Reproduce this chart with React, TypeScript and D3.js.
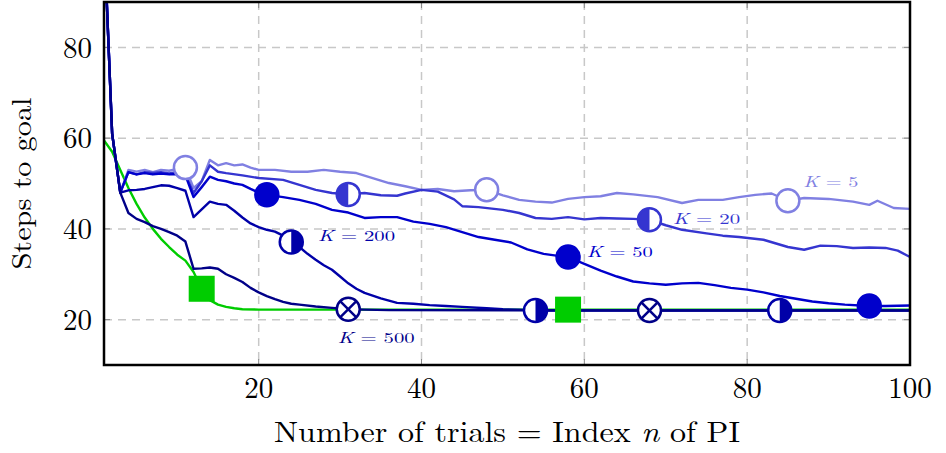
import React from 'react';
import * as d3 from 'd3';

type Pt = [number, number];

// axis ticks
const xTicks = [20, 40, 60, 80, 100];
const yTicks = [20, 40, 60, 80];

// series (x = trial index, y = steps to goal)
const k5: Pt[] = [
  [1, 105], [2, 61], [3, 48], [4, 53], [5, 52.6], [6, 53], [7, 52.5], [8, 53], [9, 52.8], [10, 53.2],
  [11, 53.5], [12, 49], [13, 50.5], [14, 55.2], [15, 54], [16, 54.5], [17, 54], [18, 54.2], [19, 53.5], [20, 53],
  [22, 53], [24, 52.6], [26, 52.6], [28, 53], [30, 52.6], [32, 52.3], [34, 51.2], [36, 50.1], [38, 49.4], [40, 48.6],
  [42, 48.8], [44, 48.3], [46, 48.5], [48, 48.6], [50, 47.4], [52, 46.4], [54, 46], [56, 45.8], [58, 46.6], [60, 47],
  [62, 47.2], [64, 47.9], [66, 47.6], [69, 47], [72, 45.7], [74, 46.4], [77, 46.4], [79, 47], [81, 47.5], [83, 47.8],
  [85, 46.2], [87, 46.8], [90, 46.6], [93, 46], [95, 45.3], [96, 46.2], [98, 44.6], [100, 44.4],
];

const k20: Pt[] = [
  [1, 105], [2, 61], [3, 48], [4, 52.5], [5, 52], [6, 52.5], [7, 52.3], [8, 52.5], [9, 52.2], [10, 52.5],
  [11, 52], [12, 47.9], [13, 50.5], [14, 54], [15, 52.6], [16, 52.3], [18, 51.8], [20, 51.2], [23, 50.8], [25, 49.7],
  [27, 48.6], [29, 47.9], [31, 47.6], [33, 47.9], [35, 47.4], [37, 47.3], [38, 47.8], [40, 48.6], [42, 48.2], [44, 46.5],
  [45, 45], [47, 44.8], [50, 44.2], [52, 43.5], [54, 42.4], [56, 42.2], [58, 42.6], [60, 42.1], [62, 42.4], [64, 42.3],
  [66, 42.2], [68, 42], [70, 40.8], [72, 39.8], [75, 39], [77, 38.5], [79, 38.2], [82, 37.6], [85, 36], [87, 35.4],
  [89, 36.3], [91, 36.2], [93, 35.8], [95, 35.9], [97, 35.8], [98.5, 35.2], [100, 33.8],
];

const k50: Pt[] = [
  [1, 105], [2, 61], [3, 48], [4, 52.5], [5, 52], [6, 52.3], [7, 52], [8, 52.2], [9, 52], [10, 52.1],
  [11, 51.8], [12, 47], [13, 49.2], [14, 51.5], [15, 50.8], [16, 50.5], [17, 50], [18, 49.7], [19, 48.8], [20, 48],
  [21, 47.5], [23, 47], [25, 46.4], [27, 45.5], [29, 44.2], [31, 43.6], [33, 42.4], [35, 42.6], [37, 42.6], [39, 41.6],
  [41, 41.1], [43, 40.4], [45, 39.3], [47, 38.2], [49, 37.6], [51, 37], [53, 35.5], [55, 34.5], [57, 34], [58, 33.8],
  [60, 32.3], [62, 30.8], [64, 29.5], [66, 28.4], [68, 28], [70, 27.7], [72, 28], [74, 28.1], [76, 27.6], [78, 27],
  [80, 26.6], [82, 26], [84, 25.2], [86, 24.6], [88, 24], [90, 23.6], [92, 23.3], [95, 23], [97, 23], [100, 23.1],
];

const k200: Pt[] = [
  [1, 105], [2, 61], [3, 48], [4, 48.5], [5, 48.6], [6, 48.8], [7, 49.2], [8, 49.6], [9, 49.5], [10, 49],
  [11, 48.4], [12, 42.6], [13, 44.3], [14, 46], [15, 45.5], [16, 45.3], [17, 44], [18, 42.5], [19, 41.2], [20, 40.4],
  [21, 39.8], [22, 39.4], [23, 38.5], [24, 37.1], [25, 36], [26, 34.5], [27, 33.2], [28, 32], [29, 31], [30, 29.5],
  [31, 28], [32, 26.8], [33, 25.9], [35, 24.7], [37, 23.7], [39, 23.5], [41, 23.2], [43, 23], [45, 22.8], [48, 22.5],
  [50, 22.3], [52, 22.2], [54, 22], [84, 22], [100, 22],
];

const k500: Pt[] = [
  [1, 105], [2, 61], [3, 48], [4, 43.5], [5, 42.2], [6, 41.5], [7, 40.6], [8, 40], [9, 39.3], [10, 38.5],
  [11, 37.2], [12, 31.2], [13, 31.3], [14, 31.5], [15, 31.2], [16, 30], [17, 29.2], [18, 28.3], [19, 27], [20, 26],
  [21, 25.2], [22, 24.5], [23, 23.9], [24, 23.5], [25, 23.3], [27, 22.9], [29, 22.6], [31, 22.3], [33, 22.2], [36, 22.1],
  [68, 22], [100, 22],
];

const greenRef: Pt[] = [
  [1, 59.5], [2, 57], [3, 53], [4, 49], [5, 45.5], [6, 42.5], [7, 40], [8, 37.8], [9, 36], [10, 34.3],
  [11, 33], [12, 30.5], [13, 26.8], [14, 24.3], [15, 23.3], [16, 22.8], [17, 22.5], [18, 22.3], [20, 22.2], [58, 22.2],
  [100, 22.2],
];

// x positions of the markers on each curve
const k5Marks = [11, 48, 85];
const k20Marks = [31, 68];
const k50Marks = [21, 58, 95];
const k200Marks = [24, 54, 84];
const k500Marks = [31, 68];
const greenMarks = [13, 58];

type Mark = 'open' | 'halfLeft' | 'filled' | 'halfRight' | 'otimes' | 'square';

const series: { data: Pt[]; marks: number[]; color: string; mark: Mark; label?: string; at?: Pt }[] = [
  { data: greenRef, marks: greenMarks, color: '#00cc00', mark: 'square' },
  { data: k5, marks: k5Marks, color: '#8080e2', mark: 'open', label: '5', at: [86.9, 50.3] },
  { data: k20, marks: k20Marks, color: '#3535d0', mark: 'halfLeft', label: '20', at: [70.9, 42.2] },
  { data: k50, marks: k50Marks, color: '#0000cc', mark: 'filled', label: '50', at: [60.3, 34.9] },
  { data: k200, marks: k200Marks, color: '#0000a8', mark: 'halfRight', label: '200', at: [27.3, 38.4] },
  { data: k500, marks: k500Marks, color: '#000088', mark: 'otimes', label: '500', at: [29.7, 16] },
];

const labelWidth: Record<string, number> = { '5': 55, '20': 67, '50': 66, '200': 77, '500': 77 };

const W = 946;
const H = 453;
const margin = { left: 104, right: 36, top: 2, bottom: 88 };
const FONT = "'Latin Modern Roman', 'CMU Serif', 'Liberation Serif', serif";

const App = () => {
  const x = d3.scaleLinear().domain([1, 100]).range([margin.left, W - margin.right]);
  const y = d3.scaleLinear().domain([10, 90]).range([H - margin.bottom, margin.top]);
  const line = d3.line<Pt>().x(d => x(d[0])).y(d => y(d[1]));
  const [x0, x1] = x.range();
  const [y0, y1] = [y(90), y(10)];

  const drawMark = (m: Mark, cx: number, cy: number, color: string, key: string) => {
    const r = 11.5;
    if (m === 'square') {
      return <rect key={key} x={cx - 13} y={cy - 13} width={26} height={26} fill={color} />;
    }
    if (m === 'filled') {
      return <circle key={key} cx={cx} cy={cy} r={r} fill={color} stroke={color} strokeWidth={2.5} />;
    }
    if (m === 'open') {
      return <circle key={key} cx={cx} cy={cy} r={r} fill="white" stroke={color} strokeWidth={2.5} />;
    }
    if (m === 'halfLeft' || m === 'halfRight') {
      const sweep = m === 'halfLeft' ? 0 : 1;
      return (
        <g key={key}>
          <circle cx={cx} cy={cy} r={r} fill="white" />
          <path d={`M${cx},${cy - r} A${r},${r} 0 0 ${sweep} ${cx},${cy + r} Z`} fill={color} />
          <circle cx={cx} cy={cy} r={r} fill="none" stroke={color} strokeWidth={2.5} />
        </g>
      );
    }
    const d = r * Math.SQRT1_2;
    return (
      <g key={key} stroke={color} strokeWidth={2.5}>
        <circle cx={cx} cy={cy} r={r} fill="white" />
        <line x1={cx - d} y1={cy - d} x2={cx + d} y2={cy + d} />
        <line x1={cx - d} y1={cy + d} x2={cx + d} y2={cy - d} />
      </g>
    );
  };

  return (
    <svg width={W} height={H} style={{ position: 'absolute', left: 0, top: 0, background: 'white' }}
      fontFamily={FONT}>
      <defs>
        <clipPath id="plot">
          <rect x={x0} y={y0} width={x1 - x0} height={y1 - y0} />
        </clipPath>
      </defs>

      {/* grid */}
      <g stroke="#c8c8c8" strokeWidth={1.5} strokeDasharray="8,6">
        {xTicks.filter(t => t < 100).map(t => (
          <line key={'gx' + t} x1={x(t)} x2={x(t)} y1={y0} y2={y1} />
        ))}
        {yTicks.map(t => (
          <line key={'gy' + t} x1={x0} x2={x1} y1={y(t)} y2={y(t)} />
        ))}
      </g>
      {/* ticks */}
      <g stroke="#888" strokeWidth={1}>
        {xTicks.map(t => (
          <g key={'tx' + t}>
            <line x1={x(t)} x2={x(t)} y1={y1} y2={y1 - 6} />
            <line x1={x(t)} x2={x(t)} y1={y0} y2={y0 + 6} />
          </g>
        ))}
        {yTicks.map(t => (
          <g key={'ty' + t}>
            <line x1={x0} x2={x0 + 6} y1={y(t)} y2={y(t)} />
            <line x1={x1} x2={x1 - 6} y1={y(t)} y2={y(t)} />
          </g>
        ))}
      </g>

      {/* lines */}
      <g clipPath="url(#plot)" fill="none" strokeWidth={2.4} strokeLinejoin="round">
        {series.map((s, i) => (
          <path key={'l' + i} d={line(s.data) ?? ''} stroke={s.color} />
        ))}
      </g>

      {/* markers */}
      <g>
        {series.map((s, i) =>
          s.marks.map(mx => {
            const p = s.data.find(d => d[0] === mx)!;
            return drawMark(s.mark, x(p[0]), y(p[1]), s.color, `m${i}-${mx}`);
          })
        )}
      </g>

      {/* curve labels */}
      {series.filter(s => s.label).map(s => (
        <text key={'lab' + s.label} x={x(s.at![0])} y={y(s.at![1])} dy="0.35em" fontSize={15}
          fill={s.color} textLength={labelWidth[s.label!]} lengthAdjust="spacingAndGlyphs"
          xmlSpace="preserve">
          <tspan fontStyle="italic">K</tspan>{` = ${s.label}`}
        </text>
      ))}

      {/* frame */}
      <rect x={x0} y={y0} width={x1 - x0} height={y1 - y0} fill="none" stroke="black" strokeWidth={2.5} />

      {/* tick labels */}
      {xTicks.map(t => (
        <text key={'xl' + t} x={x(t)} y={y1 + 23} dy="0.35em" textAnchor="middle" fontSize={29}>{t}</text>
      ))}
      {yTicks.map(t => (
        <text key={'yl' + t} x={x0 - 12} y={y(t)} dy="0.35em" textAnchor="end" fontSize={29}>{t}</text>
      ))}

      {/* axis titles */}
      <text x={(x0 + x1) / 2} y={442} textAnchor="middle" fontSize={29} textLength={466}
        lengthAdjust="spacingAndGlyphs">
        Number of trials = Index <tspan fontStyle="italic">n</tspan> of PI
      </text>
      <text transform={`translate(31, ${(y0 + y1) / 2}) rotate(-90)`} textAnchor="middle" fontSize={28}
        textLength={172} lengthAdjust="spacingAndGlyphs">
        Steps to goal
      </text>
    </svg>
  );
};

export default App;
